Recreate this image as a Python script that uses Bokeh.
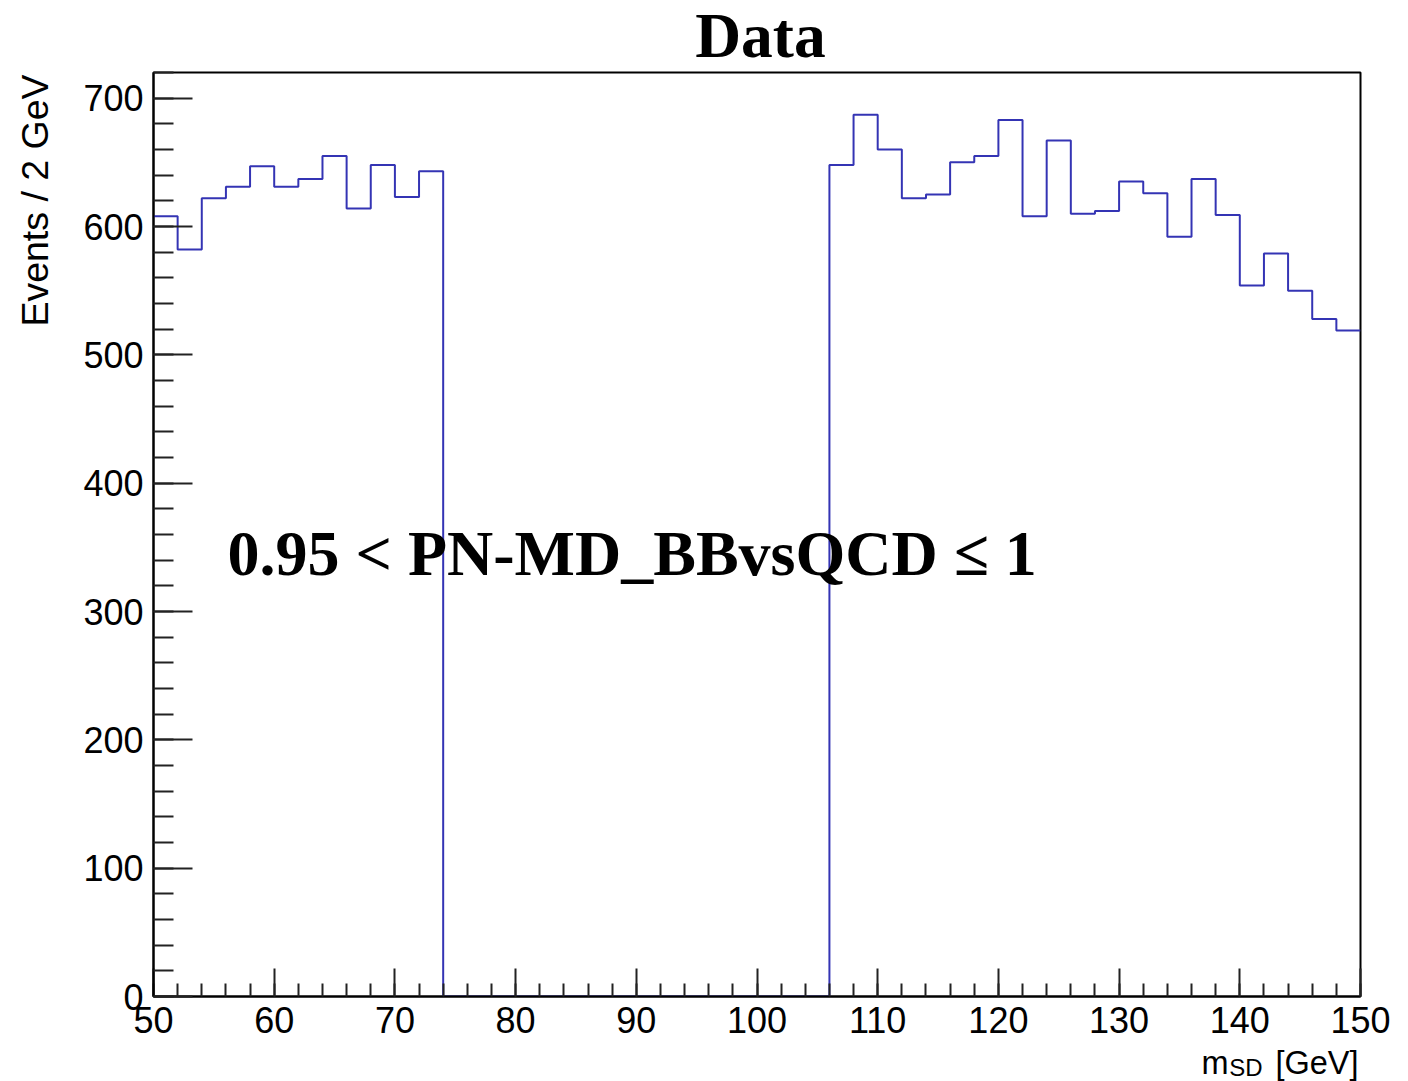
import math
from bokeh.plotting import figure
from bokeh.models import Range1d, SingleIntervalTicker, Label
from bokeh.layouts import column, row
from bokeh.embed import file_html
from bokeh.resources import INLINE

# ---- data ----
bin_edges_low = list(range(50, 150, 2))
counts = [608, 582, 622, 631, 647, 631, 637, 655, 614, 648, 623, 643,
          0, 0, 0, 0, 0, 0, 0, 0, 0, 0, 0, 0, 0, 0, 0, 0,
          648, 687, 660, 622, 625, 650, 655, 683, 608, 667, 610, 612,
          635, 626, 592, 637, 609, 554, 579, 550, 528, 519]
x_ticks_interval = 10
y_ticks_interval = 100
title_text = "Data"
cut_text = "0.95 < PN-MD_BBvsQCD \u2264 1"
y_label = "Events / 2 GeV"
x_label_main = "m"
x_label_sub = "SD"
x_label_unit = "[GeV]"

W, H = 1408, 1081
TOP_H = 71          # height of the title strip
LEFT_W = 80         # width of the y-title strip
MAIN_B = 1044       # canvas y where the main figure ends
MAIN_H = MAIN_B - TOP_H
BOT_H = H - MAIN_B
FRAME_L, FRAME_R, FRAME_T, FRAME_B = 153, 1360, 72, 996

SERIF_MID = 0.3375
SANS_MID = 0.3465


def blank(w, h):
    f = figure(width=w, height=h, output_backend="svg", toolbar_location=None,
               x_range=Range1d(0, w), y_range=Range1d(0, h),
               x_axis_type=None, y_axis_type=None,
               min_border_left=0, min_border_right=0, min_border_top=0, min_border_bottom=0)
    f.outline_line_color = None
    f.background_fill_color = "white"
    f.border_fill_color = "white"
    return f


# ---- title strip ----
top = blank(W, TOP_H)
top.add_layout(Label(x=760, y=TOP_H - (56.6 - SERIF_MID * 63.5),
                     text=title_text, text_font="Liberation Serif", text_font_style="bold",
                     text_font_size="63.5px", text_align="center", text_baseline="middle",
                     text_color="black"))

# ---- left strip (y title) ----
left = blank(LEFT_W, MAIN_H)
left.add_layout(Label(x=34, y=MAIN_B - 73, text=y_label, text_font="Liberation Sans",
                      text_font_size="37.5px", angle=math.pi / 2, text_align="right",
                      text_baseline="middle", text_color="black"))

# ---- main plot ----
p = figure(width=W - LEFT_W, height=MAIN_H, output_backend="svg", toolbar_location=None,
           x_range=Range1d(50, 150), y_range=Range1d(0, 720),
           min_border_left=FRAME_L - LEFT_W, min_border_right=W - FRAME_R,
           min_border_top=FRAME_T - TOP_H, min_border_bottom=MAIN_B - FRAME_B)
p.outline_line_color = "black"
p.outline_line_width = 2
p.background_fill_color = "white"
p.border_fill_color = "white"
p.xgrid.visible = False
p.ygrid.visible = False

xs = bin_edges_low + [150]
ys = counts + [counts[-1]]
p.step(xs, ys, mode="after", line_color="#3434b4", line_width=2)

for ax in (p.xaxis[0], p.yaxis[0]):
    ax.axis_line_color = "black"
    ax.axis_line_width = 2
    ax.major_tick_out = 0
    ax.minor_tick_out = 0
    ax.major_tick_line_color = "#222222"
    ax.minor_tick_line_color = "#222222"
    ax.major_tick_line_width = 2
    ax.minor_tick_line_width = 2
    ax.major_label_text_font = "Liberation Sans"
    ax.major_label_text_font_size = "36px"
    ax.major_label_text_color = "black"

p.xaxis.ticker = SingleIntervalTicker(interval=x_ticks_interval, num_minor_ticks=5)
p.yaxis.ticker = SingleIntervalTicker(interval=y_ticks_interval, num_minor_ticks=5)
p.xaxis.major_tick_in = 28
p.xaxis.minor_tick_in = 13
p.yaxis.major_tick_in = 39
p.yaxis.minor_tick_in = 20
p.xaxis.major_label_standoff = 10
p.yaxis.major_label_standoff = 10

fh = FRAME_B - FRAME_T
p.add_layout(Label(x=74, y=fh - (575 - SERIF_MID * 64 - FRAME_T), x_units="screen", y_units="screen",
                   text=cut_text, text_font="Liberation Serif", text_font_style="bold",
                   text_font_size="64px", text_align="left", text_baseline="middle",
                   text_color="black"))

# ---- bottom strip (x title) ----
bot = blank(W, BOT_H)
bot.add_layout(Label(x=1358, y=H - (1074 - SANS_MID * 32.5), text=x_label_unit,
                     text_font="Liberation Sans", text_font_size="32.5px", text_align="right",
                     text_baseline="middle", text_color="black"))
bot.add_layout(Label(x=1262, y=H - (1075.5 - SANS_MID * 24), text=x_label_sub,
                     text_font="Liberation Sans", text_font_size="24px", text_align="right",
                     text_baseline="middle", text_color="black"))
bot.add_layout(Label(x=1228, y=H - (1074 - SANS_MID * 32.5), text=x_label_main,
                     text_font="Liberation Sans", text_font_size="32.5px", text_align="right",
                     text_baseline="middle", text_color="black"))

layout = column(top, row(left, p, spacing=0), bot, spacing=0)
open("out.html", "w").write(file_html(layout, INLINE))
